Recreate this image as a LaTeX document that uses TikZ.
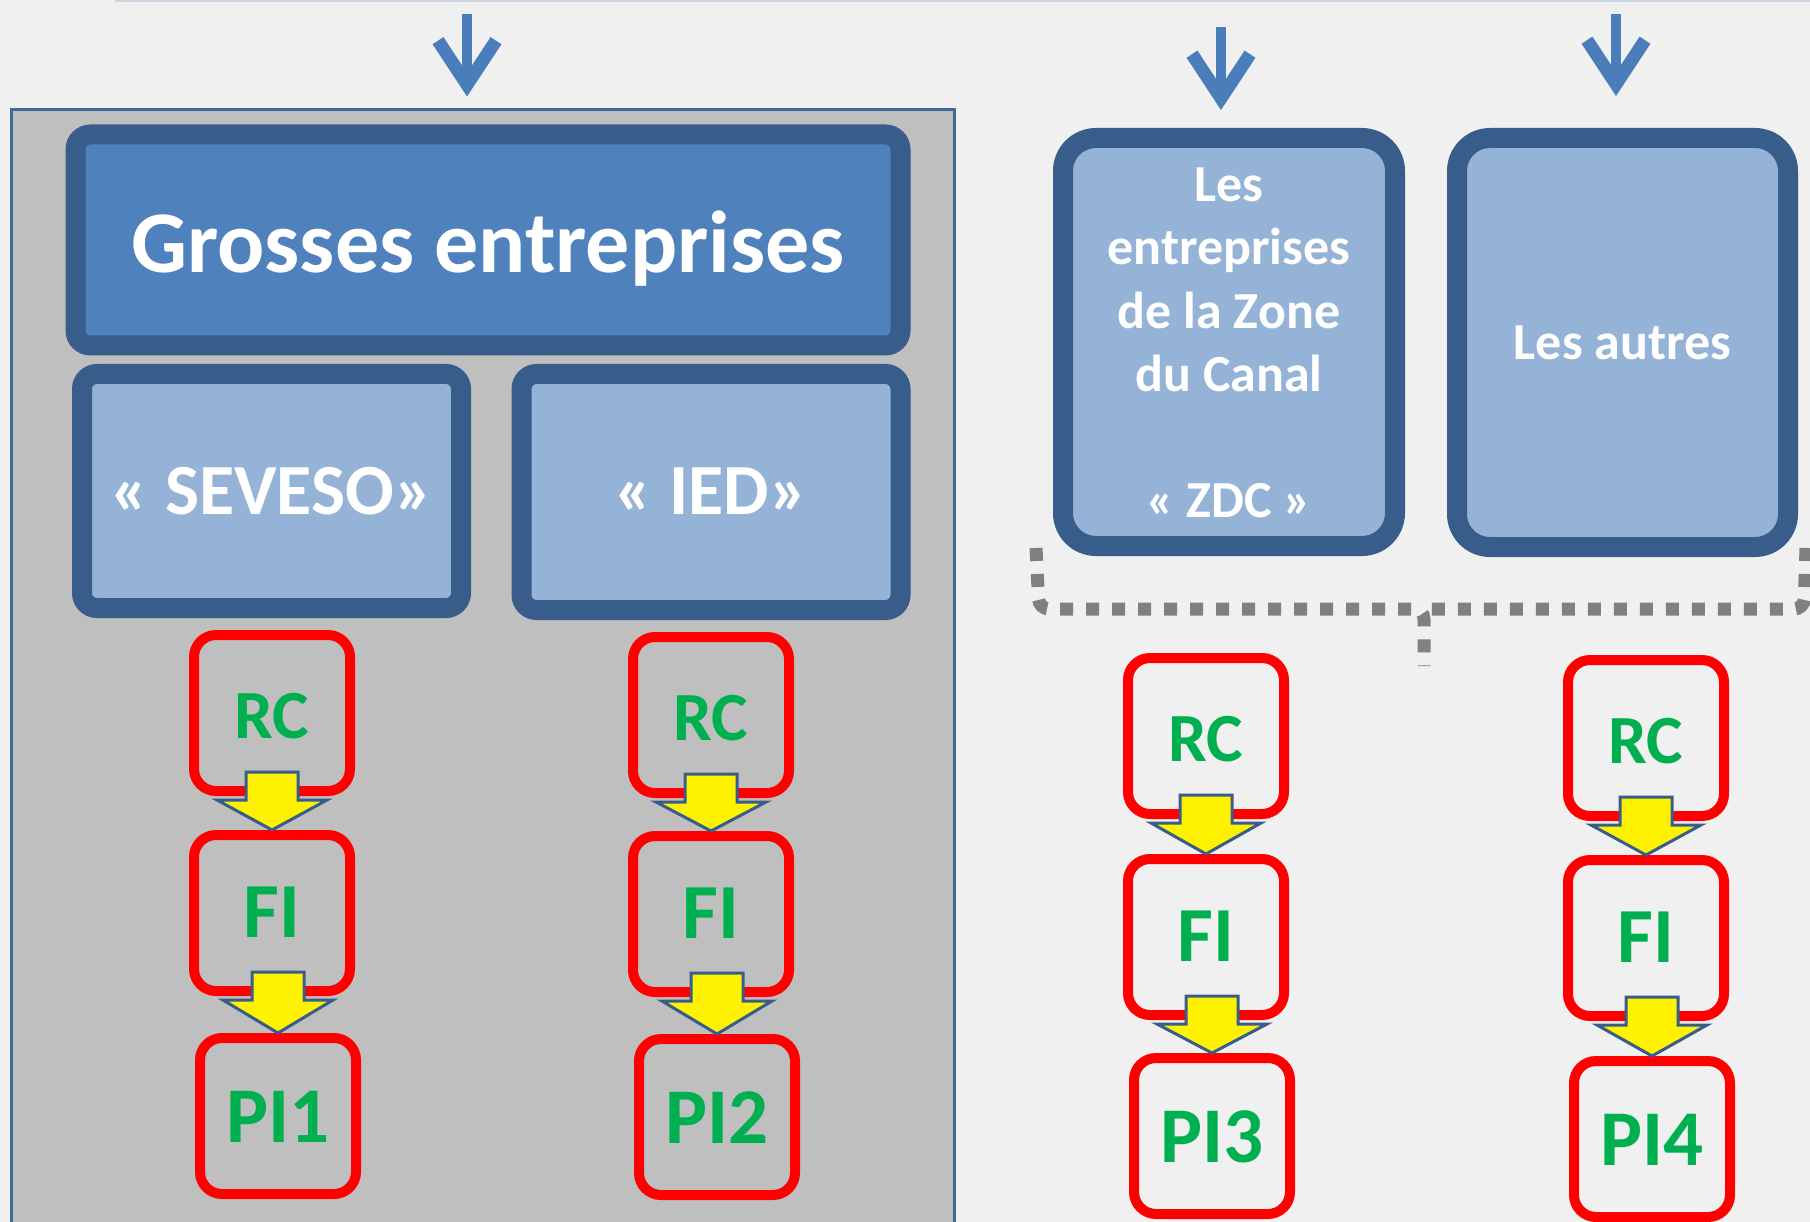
\documentclass[tikz,border=0pt]{standalone}
\usepackage{fontspec}
\setmainfont{Carlito}
\usepackage{xcolor}
\usepackage{tikz}
\usetikzlibrary{arrows.meta,calc}

\definecolor{bgcol}{HTML}{F0F0F0}
\definecolor{topline}{HTML}{C9D4E3}
\definecolor{darkblue}{HTML}{385D8A}
\definecolor{midblue}{HTML}{4F81BD}
\definecolor{lightblue}{HTML}{95B3D7}
\definecolor{panelgray}{HTML}{BFBFBF}
\definecolor{panelline}{HTML}{41689A}
\definecolor{arrowblue}{HTML}{4A7EBB}
\definecolor{textgreen}{HTML}{00B050}
\definecolor{dotgray}{HTML}{808080}

% yellow block arrow from the box #1 down to the box #2
\newcommand{\flowarrow}[2]{%
  \path[yarr] let \p1=(#1.south), \p2=(#2.north) in
    (\x2-26pt,\y1+24pt) -- (\x2+26pt,\y1+24pt) -- (\x2+26pt,\y1-4pt)
    -- (\x2+55pt,\y1-4pt) -- (\x2,\y2) -- (\x2-55pt,\y1-4pt)
    -- (\x2-26pt,\y1-4pt) -- cycle;}

\begin{document}
\begin{tikzpicture}[x=1pt,y=-1pt,
    bluebox/.style={rectangle, draw=darkblue, line width=20pt},
    redbox/.style={rectangle, draw=red, line width=10pt, rounded corners=22pt,
                   minimum width=156pt, minimum height=156pt},
    whitetxt/.style={text=white, anchor=base},
    greentxt/.style={text=textgreen, anchor=base},
    yarr/.style={fill=yellow, draw=darkblue, line width=3pt, line join=miter},
    toparrow/.style={draw=arrowblue, line width=10pt,
                     -{Straight Barb[length=44pt,width=58pt,line width=13pt]}},
    dotbrace/.style={draw=dotgray, line width=13pt, dash pattern=on 13pt off 13pt}]

    \useasboundingbox (0,0) rectangle (1810,1222);
    \fill[bgcol] (0,0) rectangle (1810,1222);
    \draw[topline, line width=2pt] (115,1) -- (1810,1);

    % grey panel
    \node[rectangle,
          draw = panelline,
          line width = 3pt,
          fill = panelgray,
          minimum width = 943pt,
          minimum height = 1130pt
          ] (panel) at (483,675) {};

    % blue boxes
    \node[bluebox,
          fill = midblue,
          rounded corners = 15pt,
          minimum width = 825pt,
          minimum height = 211pt
          ] (ge) at (488,240) {};
    \node[whitetxt, font=\fontsize{88}{100}\selectfont\bfseries]
        at ($(ge.center)+(0,33)$) {Grosses entreprises};

    \node[bluebox,
          fill = lightblue,
          rounded corners = 15pt,
          minimum width = 379pt,
          minimum height = 234pt
          ] (seveso) at (271.5,491) {};
    \node[whitetxt, font=\fontsize{72}{86}\selectfont\bfseries]
        at ($(seveso.center)+(0,23)$) {« SEVESO»};

    \node[bluebox,
          fill = lightblue,
          rounded corners = 15pt,
          minimum width = 379pt,
          minimum height = 236pt
          ] (ied) at (711,492) {};
    \node[whitetxt, font=\fontsize{72}{86}\selectfont\bfseries]
        at ($(ied.center)+(0,22)$) {« IED»};

    \node[bluebox,
          fill = lightblue,
          rounded corners = 33pt,
          minimum width = 332pt,
          minimum height = 408pt
          ] (zdc) at (1229,342) {};
    \node[whitetxt, anchor=center, align=center,
          font=\fontsize{52}{63.5}\selectfont\bfseries]
        at ($(zdc.center)+(0,-62)$) {Les\\entreprises\\de la Zone\\du Canal};
    \node[whitetxt, font=\fontsize{52}{63.5}\selectfont\bfseries]
        at ($(zdc.center)+(0,175)$) {« ZDC »};

    \node[bluebox,
          fill = lightblue,
          rounded corners = 33pt,
          minimum width = 331pt,
          minimum height = 409pt
          ] (autres) at (1622.5,342.5) {};
    \node[whitetxt, font=\fontsize{52}{63.5}\selectfont\bfseries]
        at ($(autres.center)+(0,17.5)$) {Les autres};

    % red boxes
    \node[redbox] (rc1) at (272,713) {};
    \node[redbox] (fi1) at (272,913) {};
    \node[redbox] (pi1) at (278,1116) {};
    \node[redbox] (rc2) at (711,715) {};
    \node[redbox] (fi2) at (711,914) {};
    \node[redbox] (pi2) at (717,1117) {};
    \node[redbox] (rc3) at (1206,736) {};
    \node[redbox] (fi3) at (1206,937) {};
    \node[redbox] (pi3) at (1212,1136) {};
    \node[redbox] (rc4) at (1646,738) {};
    \node[redbox] (fi4) at (1646,938) {};
    \node[redbox] (pi4) at (1652,1139) {};

    \flowarrow{rc1}{fi1} \flowarrow{fi1}{pi1}
    \flowarrow{rc2}{fi2} \flowarrow{fi2}{pi2}
    \flowarrow{rc3}{fi3} \flowarrow{fi3}{pi3}
    \flowarrow{rc4}{fi4} \flowarrow{fi4}{pi4}

    \node[greentxt, font=\fontsize{69}{80}\selectfont\bfseries] at ($(rc1.center)+(0,25)$) {RC};
    \node[greentxt, font=\fontsize{78}{90}\selectfont\bfseries] at ($(fi1.center)+(0,24)$) {FI};
    \node[greentxt, font=\fontsize{79}{90}\selectfont\bfseries] at ($(pi1.center)+(0,26)$) {PI1};
    \node[greentxt, font=\fontsize{69}{80}\selectfont\bfseries] at ($(rc2.center)+(0,25)$) {RC};
    \node[greentxt, font=\fontsize{78}{90}\selectfont\bfseries] at ($(fi2.center)+(0,24)$) {FI};
    \node[greentxt, font=\fontsize{79}{90}\selectfont\bfseries] at ($(pi2.center)+(0,26)$) {PI2};
    \node[greentxt, font=\fontsize{69}{80}\selectfont\bfseries] at ($(rc3.center)+(0,25)$) {RC};
    \node[greentxt, font=\fontsize{78}{90}\selectfont\bfseries] at ($(fi3.center)+(0,24)$) {FI};
    \node[greentxt, font=\fontsize{79}{90}\selectfont\bfseries] at ($(pi3.center)+(0,26)$) {PI3};
    \node[greentxt, font=\fontsize{69}{80}\selectfont\bfseries] at ($(rc4.center)+(0,25)$) {RC};
    \node[greentxt, font=\fontsize{78}{90}\selectfont\bfseries] at ($(fi4.center)+(0,24)$) {FI};
    \node[greentxt, font=\fontsize{79}{90}\selectfont\bfseries] at ($(pi4.center)+(0,26)$) {PI4};

    % incoming arrows
    \coordinate (src1) at (467,14);
    \coordinate (src2) at (1221,27);
    \coordinate (src3) at (1616,14);
    \draw[toparrow, shorten >=12pt] (src1) -- (src1 |- panel.north);
    \draw[toparrow, shorten >=18pt] (src2) -- (src2 |- zdc.north);
    \draw[toparrow, shorten >=32pt] (src3) -- (src3 |- autres.north);

    % dotted brace under the two right boxes
    \draw[dotbrace, rounded corners=10pt] (1036,548) -- (1039,609) -- (1424,609) -- (1424,666);
    \draw[dotbrace, rounded corners=10pt] (1806,548) -- (1804,609) -- (1424,609);

\end{tikzpicture}
\end{document}
